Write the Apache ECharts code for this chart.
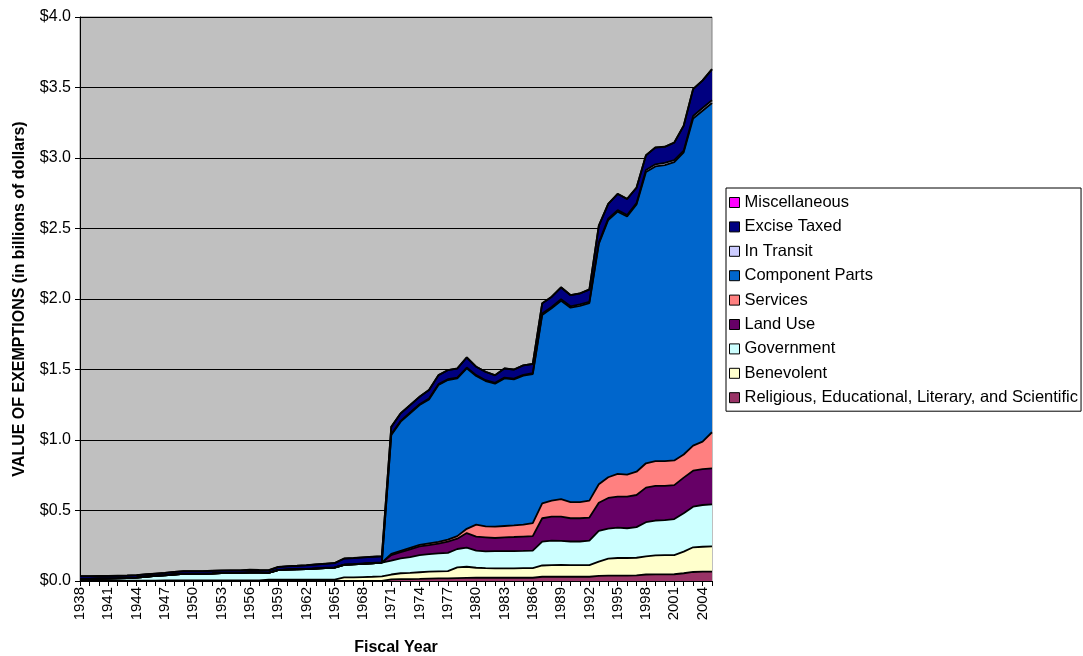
<!DOCTYPE html>
<html>
<head>
<meta charset="utf-8">
<title>Value of Exemptions</title>
<script src="https://cdn.jsdelivr.net/npm/echarts@6/dist/echarts.min.js"></script>
<style>
  html, body { margin: 0; padding: 0; background: #fff; }
  #main { width: 1083px; height: 656px; }
</style>
</head>
<body>
<div id="main"></div>
<script>
const years = ['1938','1939','1940','1941','1942','1943','1944','1945','1946','1947',
    '1948','1949','1950','1951','1952','1953','1954','1955','1956','1957',
    '1958','1959','1960','1961','1962','1963','1964','1965','1966','1967',
    '1968','1969','1970','1971','1972','1973','1974','1975','1976','1977',
    '1978','1979','1980','1981','1982','1983','1984','1985','1986','1987',
    '1988','1989','1990','1991','1992','1993','1994','1995','1996','1997',
    '1998','1999','2000','2001','2002','2003','2004','2005'];

// values in billions of dollars, bottom layer first
const religious = [0,0,0,0,0,0,0,0,0,0, 0,0,0,0,0,0,0,0,0,0, 0,0,0,0,0,0,0,0,0,0, 0,0,0,
    .012,.013,.014,.015,.017,.018,.019,.021,.022,.023, .023,.023,.023,.023,.023,.023,
    .030,.030,.030,.030,.030,.030, .036,.038,.038,.038,.040, .046,.047,.047,.048, .055,.064,.066,.066];
const benevolent = [.002,.002,.002,.002,.002,.002,.002,.002,.002,
    .004,.004,.004,.004,.004,.004,.004,.004,.004,.004,.004,
    .010,.010,.010,.010,.010,.010,.010,.010, .025,.026,.028,.030,.033,
    .034,.042,.044,.047,.049,.050,.051,.076,.079,.071, .068,.067,.067,.067,.068,.069,
    .080,.083,.084,.082,.082,.083, .102,.120,.125,.125,.125, .129,.135,.136,.136, .153,.175,.177,.179];
const government = [.013,.013,.014,.015,.016,.018,.022,.028,.034,
    .036,.042,.046,.046,.047,.049,.052,.053,.053,.056,.055,
    .048,.067,.070,.072,.074,.078,.082,.085, .090,.092,.094,.096,.097,
    .098,.105,.112,.122,.124,.128,.130,.130,.135,.122, .119,.122,.122,.122,.122,.124,
    .169,.173,.170,.168,.168,.173, .217,.213,.215,.211,.217, .242,.247,.249,.255, .272,.288,.296,.299];
const landUse = [0,0,0,0,0,0,0,0,0,0, 0,0,0,0,0,0,0,0,0,0, 0,0,0,0,0,0,0,0,0,0, 0,0,0,
    .040,.045,.055,.061,.065,.069,.080,.073,.104,.099, .100,.093,.098,.100,.102,.102,
    .166,.170,.172,.165,.165,.164, .200,.218,.220,.224,.228, .245,.245,.242,.241, .253,.255,.255,.255];
const services = [0,0,0,0,0,0,0,0,0,0, 0,0,0,0,0,0,0,0,0,0, 0,0,0,0,0,0,0,0,0,0, 0,0,0,
    .008,.009,.010,.011,.012,.013,.014,.018,.030,.085, .078,.080,.080,.082,.085,.092,
    .105,.114,.124,.115,.115,.120, .131,.147,.162,.157,.165, .173,.176,.176,.175, .164,.178,.194,.256];
const componentParts = [0,0,0,0,0,0,0,0,0,0, 0,0,0,0,0,0,0,0,0,0, 0,0,0,0,0,0,0,0,0,0, 0,0,0,
    .843,.916,.955,.992,1.021,1.112,1.131,1.119,1.138,1.054, 1.030,1.015,1.047,1.036,1.056,1.058,
    1.337,1.364,1.408,1.378,1.392,1.400, 1.704,1.824,1.860,1.830,1.895, 2.065,2.090,2.100,2.115,
    2.143,2.320,2.347,2.335];
const inTransit = [.002,.002,.002,.002,.002,.002,.002,.002,.002,.002, .002,.002,.002,.002,.002,.002,.002,.002,.002,.002,
    .002,.002,.002,.002,.002,.002,.002,.002,.002,.002, .002,.002,.002,
    .006,.006,.006,.006,.006,.006,.006,.006,.006,.006, .006,.006,.006,.006,.006,.006,
    .010,.010,.010,.010,.010,.010, .010,.010,.010,.010,.010, .015,.015,.015,.015, .012,.018,.020,.020];
const exciseTaxed = [.017,.017,.017,.017,.017,.016,.015,.015,.014,
    .015,.016,.017,.017,.016,.017,.016,.016,.016,.017,.016,
    .016,.020,.022,.023,.025,.027,.028,.030, .042,.042,.043,.043,.043,
    .052,.053,.051,.052,.060,.063,.064,.064,.071,.059, .059,.053,.064,.063,.067,.065,
    .072,.071,.084,.079,.077,.087, .119,.104,.115,.114,.109, .104,.119,.114,.124, .177,.191,.194,.219];
const miscellaneous = [.001,.001,.001,.001,.001,.001,.001,.001,.001,.001, .001,.001,.001,.001,.001,.001,.001,.001,.001,.001,
    .001,.001,.001,.001,.001,.001,.001,.001,.001,.001, .001,.001,.001,.001,.001,.001,.001,.001,.001,.001,
    .001,.001,.001,.001,.001,.001,.001,.001,.001,.001, .001,.001,.001,.001,.001,.001,.001,.001,.001,.001,
    .001,.001,.001,.001,.001,.001,.001,.001];

const layers = [
    { name: 'Religious, Educational, Literary, and Scientific', data: religious, color: '#993366' },
    { name: 'Benevolent', data: benevolent, color: '#FFFFCC' },
    { name: 'Government', data: government, color: '#CCFFFF' },
    { name: 'Land Use', data: landUse, color: '#660066' },
    { name: 'Services', data: services, color: '#FF8080' },
    { name: 'Component Parts', data: componentParts, color: '#0066CC' },
    { name: 'In Transit', data: inTransit, color: '#CCCCFF' },
    { name: 'Excise Taxed', data: exciseTaxed, color: '#000080' },
    { name: 'Miscellaneous', data: miscellaneous, color: '#FF00FF' }
];

const font = "'Liberation Sans', Arial, sans-serif";

let myChart = echarts.init(document.getElementById('main'));

let series = [];
// filled areas
layers.forEach(function (l) {
    series.push({
        name: l.name,
        type: 'line',
        stack: 'areas',
        data: l.data,
        symbol: 'none',
        color: l.color,
        lineStyle: { width: 0 },
        areaStyle: { color: l.color, opacity: 1 },
        itemStyle: { color: l.color, borderColor: '#000', borderWidth: 1 },
        z: 2
    });
});
// black outlines drawn above all areas
layers.forEach(function (l) {
    series.push({
        name: l.name + ' outline',
        type: 'line',
        stack: 'outlines',
        data: l.data,
        symbol: 'none',
        lineStyle: { color: '#000', width: 1.8 },
        z: 3,
        silent: true
    });
});

let option = {
    animation: false,
    textStyle: { fontFamily: font },
    grid: {
        left: 80, right: 371, top: 17, bottom: 75,
        outerBoundsMode: 'none',
        show: true, backgroundColor: '#C0C0C0', borderColor: '#808080', borderWidth: 1
    },
    legend: {
        orient: 'vertical',
        left: 726, top: 188,
        data: layers.map(function (l) { return l.name; }).reverse(),
        itemWidth: 10, itemHeight: 10, itemGap: 7.4,
        icon: 'rect',
        padding: [6, 3, 5, 3],
        borderColor: '#000', borderWidth: 1,
        textStyle: { fontFamily: font, fontSize: 16.5, lineHeight: 16, color: '#000' },
        itemStyle: { borderColor: '#000', borderWidth: 1 }
    },
    xAxis: {
        type: 'category',
        data: years,
        boundaryGap: false,
        name: 'Fiscal Year',
        nameLocation: 'middle',
        nameGap: 59,
        nameTextStyle: { fontFamily: font, fontSize: 16, fontWeight: 'bold', color: '#000' },
        axisLine: { lineStyle: { color: '#000', width: 1 } },
        axisTick: { interval: 0, length: 5, lineStyle: { color: '#000' } },
        axisLabel: { interval: 2, rotate: 90, fontFamily: font, fontSize: 15, color: '#000', margin: 6 },
        splitLine: { show: false }
    },
    yAxis: {
        type: 'value',
        min: 0, max: 4, interval: 0.5,
        name: 'VALUE OF EXEMPTIONS (in billions of dollars)',
        nameLocation: 'middle',
        nameGap: 52,
        nameTextStyle: { fontFamily: font, fontSize: 16, fontWeight: 'bold', color: '#000' },
        axisLine: { show: true, lineStyle: { color: '#000', width: 1 } },
        axisTick: { show: true, length: 5, lineStyle: { color: '#000' } },
        axisLabel: {
            fontFamily: font, fontSize: 16, color: '#000', margin: 9,
            formatter: function (v) { return '$' + v.toFixed(1); }
        },
        splitLine: { lineStyle: { color: '#000', width: 1 } }
    },
    series: series
};

myChart.setOption(option);
</script>
</body>
</html>
